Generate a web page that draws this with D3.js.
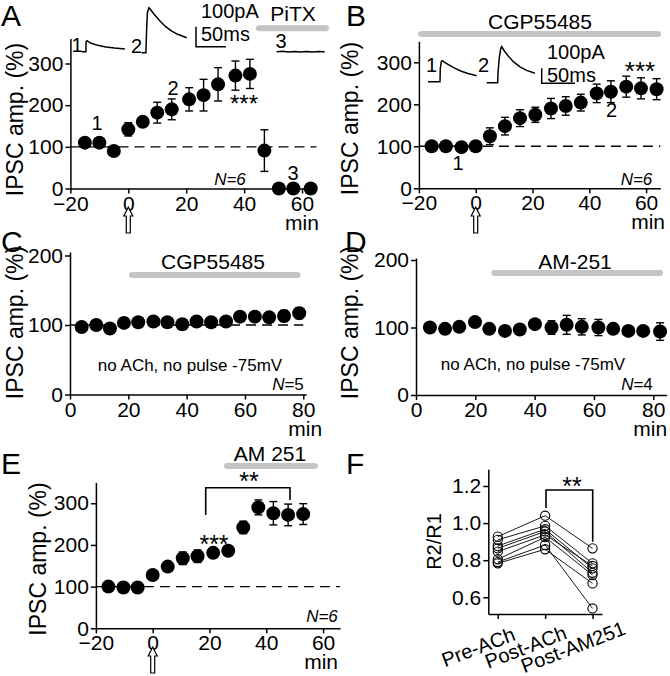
<!DOCTYPE html>
<html><head><meta charset="utf-8">
<script src="https://cdn.jsdelivr.net/npm/d3@7/dist/d3.min.js"></script>
<style>
body{margin:0;background:#fff}
svg{display:block}
text{font-family:"Liberation Sans",Arial,Helvetica,sans-serif;fill:#000}
</style></head><body>
<svg id="c" width="670" height="676"></svg>
<script>
// ---------------- DATA ----------------
const timeTicks = [-20, 0, 20, 40, 60];
const timeTicks2 = [0, 20, 40, 60, 80];
const ampTicks = [0, 100, 200, 300];
const ampTicks2 = [0, 100, 200];
const ratioTicks = [0.6, 0.8, 1.0, 1.2];

// Panel A
const aTime = [-15, -10, -5, 0, 5, 10, 15, 21, 26, 31, 37, 42, 47, 52, 57, 63];
const aMean = [110, 110, 90, 142, 160, 182, 190, 214, 224, 250, 271, 275, 91, 0, 0, 0];
const aErr  = [0, 0, 0, 16, 8, 25, 25, 28, 38, 40, 35, 35, 50, 0, 0, 0];
// Panel B
const bTime = [-15.5, -10.5, -5, 0, 5, 10.3, 15.6, 21, 26.5, 31.7, 37, 42.6, 47.6, 53, 58.2, 63.7];
const bMean = [100, 100, 98, 100, 124, 148, 167, 175, 190, 196, 204, 226, 230, 242, 238, 236];
const bErr  = [0, 0, 0, 0, 20, 21, 20, 18, 24, 22, 20, 22, 26, 25, 25, 25];
// Panel C
const cTime = [4, 9, 13.7, 18.5, 23.4, 28.6, 33.4, 38.5, 43.4, 48.4, 53.5, 58.3, 63.4, 68.3, 73.4, 78.6];
const cMean = [97, 100, 95, 103, 104, 105, 104, 101, 105, 104, 105, 112, 112, 111, 113, 117];
const cErr  = [4, 4, 4, 4, 4, 5, 5, 5, 5, 5, 5, 6, 6, 6, 8, 8];
// Panel D
const dTime = [4.7, 9.8, 14.6, 19.9, 24.7, 30, 35, 40.1, 45.7, 50.8, 55.9, 61.5, 66.5, 71.6, 76.6, 82.3];
const dMean = [100, 98, 101, 108, 98, 95, 97, 105, 100, 104, 101, 100, 98, 95, 95, 94];
const dErr  = [3, 3, 3, 4, 3, 3, 3, 6, 10, 14, 12, 12, 5, 4, 5, 13];
// Panel E
const eTime = [-15.6, -10.3, -5.3, 0, 5.3, 10.6, 15.8, 21.3, 26.6, 31.9, 37.2, 42.5, 47.7, 53];
const eMean = [100, 98, 98, 128, 148, 168, 173, 181, 186, 242, 290, 276, 272, 274];
const eErr  = [0, 0, 0, 0, 6, 15, 15, 10, 5, 15, 18, 28, 26, 25];
// Panel F (paired R2/R1 per cell)
const fGroups = ["Pre-ACh", "Post-ACh", "Post-AM251"];
const fPre  = [0.927, 0.91, 0.877, 0.864, 0.846, 0.805, 0.783, 0.79];
const fPost = [1.04, 0.985, 0.967, 0.955, 0.937, 0.924, 0.859, 0.882];
const fAM   = [0.864, 0.783, 0.756, 0.732, 0.769, 0.72, 0.675, 0.54];

// Example traces [ms, pA]
const aTrace1 = [[0,0],[7,0],[7.3,50],[9,55],[11,50],[16,42],[25,33],[40,24],[55,18],[72,13]];
const aTrace2 = [[0,0],[7,0],[8,100],[9.5,200],[12,225],[14,218],[20,195],[30,160],[40,130],[50,108],[60,92],[75,75]];
const aTrace3 = [[0,0],[10,2],[20,-1],[30,1],[40,-2],[50,1],[60,-1],[70,1],[80,0]];
const bTrace1 = [[0,0],[18,0],[18.5,90],[20,135],[22,140],[25,128],[30,115],[40,90],[50,70],[60,55],[73,40]];
const bTrace2 = [[0,0],[16.5,0],[17,70],[19,170],[21,225],[22.5,240],[26,215],[32,180],[40,140],[50,105],[60,82],[72.5,63]];
const scaleBar = {ms: 50, pA: 100};

// ---------------- DRAWING ----------------
const svg = d3.select("#c");
const TICK_FS = 21;

function styleAxis(g) {
  g.selectAll("path,line").attr("stroke", "#000").attr("stroke-width", 1.5);
  g.selectAll("text").attr("font-size", TICK_FS).attr("fill", "#000")
    .style("font-family", '"Liberation Sans",Arial,sans-serif');
}

function txt(x, y, s, opt = {}) {
  const t = svg.append("text").attr("x", x).attr("y", y).text(s)
    .attr("font-size", opt.fs || 20)
    .attr("text-anchor", opt.anchor || "middle");
  if (opt.italic) t.attr("font-style", "italic");
  return t;
}

function grayBar(x1, x2, y) {
  svg.append("line").attr("x1", x1).attr("x2", x2).attr("y1", y).attr("y2", y)
    .attr("stroke", "#c4c4c4").attr("stroke-width", 6).attr("stroke-linecap", "round");
}

function yTitle(x, y, s, fs = 23) {
  svg.append("text").attr("transform", `translate(${x},${y}) rotate(-90)`)
    .attr("text-anchor", "middle").attr("font-size", fs).text(s);
}

function arrow(x, top) {
  const p = [[x, top], [x + 4.5, top + 9], [x + 2, top + 9], [x + 2, top + 26],
             [x - 2, top + 26], [x - 2, top + 9], [x - 4.5, top + 9]];
  svg.append("path").attr("d", "M" + p.map(d => d.join(",")).join("L") + "Z")
    .attr("fill", "#fff").attr("stroke", "#000").attr("stroke-width", 1.2);
}

function timePanel(o) {
  const x = d3.scaleLinear().domain(o.xd).range(o.xr);
  const y = d3.scaleLinear().domain(o.yd).range(o.yr);
  const y0 = y(0);
  if (o.dash) {
    svg.append("line").attr("x1", x(o.dash[0])).attr("x2", x(o.dash[1]))
      .attr("y1", y(100)).attr("y2", y(100))
      .attr("stroke", "#000").attr("stroke-width", 1.4).attr("stroke-dasharray", "10,6");
  }
  const gx = svg.append("g").attr("transform", `translate(0,${y0})`)
    .call(d3.axisBottom(x).tickValues(o.xt).tickSize(5).tickPadding(2).tickSizeOuter(0).tickFormat(d3.format("d")));
  styleAxis(gx);
  gx.selectAll("text").attr("dy", "0.72em");
  const gy = svg.append("g").attr("transform", `translate(${o.xr[0]},0)`)
    .call(d3.axisLeft(y).tickValues(o.yt).tickSize(5).tickPadding(2).tickSizeOuter(0).tickFormat(d3.format("d")));
  styleAxis(gy);
  const idx = d3.range(o.t.length);
  const eb = svg.append("g").attr("stroke", "#000").attr("stroke-width", 1.4);
  idx.filter(i => o.e[i] > 0).forEach(i => {
    const cx = x(o.t[i]), yt = y(o.m[i] + o.e[i]), yb = y(o.m[i] - o.e[i]);
    eb.append("line").attr("x1", cx).attr("x2", cx).attr("y1", yt).attr("y2", yb);
    eb.append("line").attr("x1", cx - 4).attr("x2", cx + 4).attr("y1", yt).attr("y2", yt);
    eb.append("line").attr("x1", cx - 4).attr("x2", cx + 4).attr("y1", yb).attr("y2", yb);
  });
  svg.append("g").selectAll("circle").data(idx).join("circle")
    .attr("cx", i => x(o.t[i])).attr("cy", i => y(o.m[i])).attr("r", 7).attr("fill", "#000");
  txt(x(o.minAt) + (o.minDx || 0), y0 + 41, "min", {fs: 21});
  return {x, y};
}

function trace(data, ox, oy, pxPerMs, pxPerPA) {
  const tx = d3.scaleLinear().domain([0, 1]).range([ox, ox + pxPerMs]);
  const ty = d3.scaleLinear().domain([0, 1]).range([oy, oy - pxPerPA]);
  svg.append("path").attr("d", d3.line().x(d => tx(d[0])).y(d => ty(d[1]))(data))
    .attr("fill", "none").attr("stroke", "#000").attr("stroke-width", 1.5);
}
function scaleBarDraw(ox, oy, pxPerMs, pxPerPA) {
  const tx = d3.scaleLinear().domain([0, 1]).range([ox, ox + pxPerMs]);
  const ty = d3.scaleLinear().domain([0, 1]).range([oy, oy - pxPerPA]);
  svg.append("path").attr("d", `M${tx(0)},${ty(scaleBar.pA)}L${tx(0)},${ty(0)}L${tx(scaleBar.ms)},${ty(0)}`)
    .attr("fill", "none").attr("stroke", "#000").attr("stroke-width", 1.5);
}

// Panel letters
[["A", 1, 26], ["B", 346, 26], ["C", 1, 252], ["D", 345, 252], ["E", 1, 474], ["F", 346, 474]]
  .forEach(d => txt(d[1], d[2], d[0], {fs: 30, anchor: "start"}));

// ----- Panel A -----
timePanel({xd: [-20, 65], xr: [70.4, 316.5], yd: [0, 360], yr: [188.5, 38.5],
  xt: timeTicks, yt: ampTicks, t: aTime, m: aMean, e: aErr, dash: [-20, 65], minAt: 60});
yTitle(23, 119.5, "IPSC amp. (%)");
arrow(128.3, 207);
trace(aTrace1, 81.7, 51.7, 0.6, 0.2);
trace(aTrace2, 141.7, 52.7, 0.6, 0.2);
trace(aTrace3, 276.7, 51.7, 0.6, 0.2);
scaleBarDraw(196, 46.7, 0.6, 0.2);
txt(77, 52, "1"); txt(136.5, 52.7, "2"); txt(281, 48, "3");
txt(201, 18, "100pA", {anchor: "start", fs: 20});
txt(201, 41, "50ms", {anchor: "start", fs: 20});
grayBar(259, 326, 28.3);
txt(293, 21, "PiTX", {fs: 21});
txt(97, 130, "1"); txt(173, 95, "2"); txt(293, 180, "3");
txt(244, 112, "***", {fs: 24});
txt(230, 185, "N=6", {fs: 17, italic: true});

// ----- Panel B -----
timePanel({xd: [-20, 65], xr: [418.9, 660.3], yd: [0, 350], yr: [188.3, 41.3],
  xt: timeTicks, yt: ampTicks, t: bTime, m: bMean, e: bErr, dash: [-20, 65], minAt: 60, minDx: 2});
yTitle(358, 118.5, "IPSC amp. (%)");
arrow(475.7, 207);
grayBar(421, 658, 34);
txt(540, 29, "CGP55485", {fs: 21});
trace(bTrace1, 428, 81.7, 0.666, 0.15);
trace(bTrace2, 486.7, 82.7, 0.666, 0.15);
scaleBarDraw(541.7, 83.3, 0.666, 0.15);
txt(431.5, 72, "1"); txt(483.5, 72, "2");
txt(547, 59, "100pA", {anchor: "start", fs: 20});
txt(547, 82, "50ms", {anchor: "start", fs: 20});
txt(640, 80, "***", {fs: 26});
txt(611.5, 117, "2"); txt(458, 170, "1");
txt(636.5, 185, "N=6", {fs: 17, italic: true});

// ----- Panel C -----
timePanel({xd: [0, 81], xr: [70, 306.2], yd: [0, 205], yr: [394.5, 252],
  xt: timeTicks2, yt: ampTicks2, t: cTime, m: cMean, e: cErr, dash: [0, 80], minAt: 80, minDx: 2});
yTitle(23, 322.5, "IPSC amp. (%)");
grayBar(132, 297.5, 275);
txt(213, 268.5, "CGP55485", {fs: 21});
txt(190, 371, "no ACh, no pulse -75mV", {fs: 17});
{ const t = txt(288, 390, "", {fs: 17}); t.append("tspan").attr("font-style", "italic").text("N"); t.append("tspan").text("=5"); }

// ----- Panel D -----
timePanel({xd: [0, 84.5], xr: [416, 666.6], yd: [0, 203], yr: [395, 258],
  xt: timeTicks2, yt: ampTicks2, t: dTime, m: dMean, e: dErr, dash: null, minAt: 80, minDx: -3});
yTitle(358, 322.5, "IPSC amp. (%)");
grayBar(494.5, 660, 273);
txt(575, 268.5, "AM-251", {fs: 21});
txt(533, 370, "no ACh, no pulse -75mV", {fs: 17});
{ const t = txt(637, 390, "", {fs: 17}); t.append("tspan").attr("font-style", "italic").text("N"); t.append("tspan").text("=4"); }

// ----- Panel E -----
timePanel({xd: [-20, 66], xr: [95.9, 340.1], yd: [0, 350], yr: [628.3, 482.4],
  xt: timeTicks, yt: ampTicks, t: eTime, m: eMean, e: eErr, dash: [-20, 66], minAt: 60, minDx: -2});
yTitle(46, 559, "IPSC amp. (%)");
arrow(152.7, 647);
grayBar(227, 315, 466);
txt(270, 461, "AM 251", {fs: 21});
svg.append("path").attr("d", "M205.7,515L205.7,487.7L290,487.7L290,500")
  .attr("fill", "none").attr("stroke", "#000").attr("stroke-width", 1.6);
txt(249, 490, "**", {fs: 25});
txt(214, 553, "***", {fs: 25});
txt(322, 622, "N=6", {fs: 17, italic: true});

// ----- Panel F -----
{
  const x = d3.scalePoint().domain(fGroups).range([488.3, 602]).padding(0.2);
  const y = d3.scaleLinear().domain([0.51, 1.29]).range([614, 469.3]);
  const gx = svg.append("g").attr("transform", "translate(0,614)")
    .call(d3.axisBottom(x).tickSize(5).tickSizeOuter(0));
  styleAxis(gx);
  gx.selectAll("text").attr("text-anchor", "middle").attr("y", 0).attr("dy", "0.35em")
    .attr("font-size", 20).attr("transform", "translate(-20,33) rotate(-21)");
  const gy = svg.append("g").attr("transform", "translate(488.3,0)")
    .call(d3.axisLeft(y).tickValues(ratioTicks).tickSize(5).tickPadding(2).tickSizeOuter(0).tickFormat(d3.format(".1f")));
  styleAxis(gy);
  const cells = d3.range(fPre.length).map(i => [fPre[i], fPost[i], fAM[i]]);
  const line = d3.line().x((d, j) => x(fGroups[j])).y(d => y(d));
  svg.append("g").selectAll("path").data(cells).join("path").attr("d", line)
    .attr("fill", "none").attr("stroke", "#000").attr("stroke-width", 0.9);
  const pts = cells.flatMap(c => c.map((v, j) => ({g: fGroups[j], v})));
  svg.append("g").selectAll("circle").data(pts).join("circle")
    .attr("cx", d => x(d.g)).attr("cy", d => y(d.v)).attr("r", 4.6)
    .attr("fill", "none").attr("stroke", "#000").attr("stroke-width", 1.1);
  svg.append("path").attr("d", "M546,508L546,490L592.7,490L592.7,541.7")
    .attr("fill", "none").attr("stroke", "#000").attr("stroke-width", 1.6);
  txt(572, 495, "**", {fs: 25});
  yTitle(441, 541.5, "R2/R1", 20);
}
</script>
</body></html>
